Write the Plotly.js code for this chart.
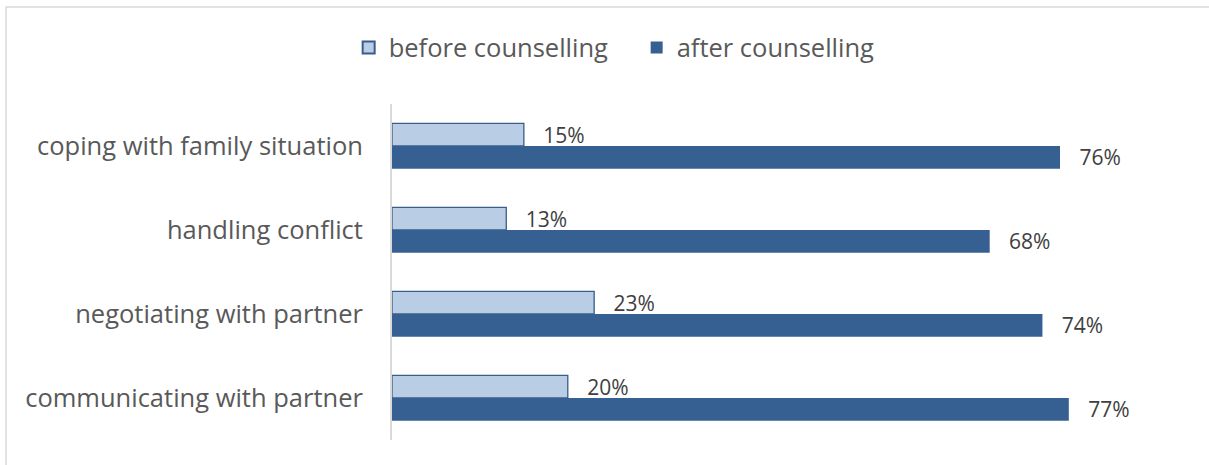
<!DOCTYPE html>
<html>
<head>
<meta charset="utf-8">
<script src="https://cdn.plot.ly/plotly-3.0.1.min.js"></script>
<style>html,body{margin:0;padding:0;background:#fff;}</style>
</head>
<body>
<div id="chart" style="width:1209px;height:465px;"></div>
<script>
const categories = ["coping with family situation", "handling conflict", "negotiating with partner", "communicating with partner"];
const seriesNames = ["before counselling", "after counselling"];
const beforeValues = [15, 13, 23, 20];
const afterValues = [76, 68, 74, 77];

const labelFont = {family: "Open Sans, Liberation Sans, sans-serif", size: 21, color: "#404040"};

const traces = [
  {
    type: "bar", orientation: "h", name: seriesNames[0],
    y: categories, x: beforeValues,
    marker: {color: "#b9cde5", line: {color: "#385d8a", width: 1.3}},
    texttemplate: "   %{x}%", textposition: "outside", textfont: labelFont,
    constraintext: "none", cliponaxis: false, hoverinfo: "x+y"
  },
  {
    type: "bar", orientation: "h", name: seriesNames[1],
    y: categories, x: afterValues,
    marker: {color: "#376092", line: {color: "#376092", width: 0}},
    texttemplate: "   %{x}%", textposition: "outside", textfont: labelFont,
    constraintext: "none", cliponaxis: false, hoverinfo: "x+y"
  }
];

const layout = {
  width: 1209, height: 465,
  margin: {l: 392, r: 29, t: 104, b: 25},
  paper_bgcolor: "#ffffff", plot_bgcolor: "#ffffff",
  font: {family: "Open Sans, Liberation Sans, sans-serif", color: "#595959"},
  barmode: "group", bargap: 0.46, bargroupgap: 0,
  showlegend: true,
  legend: {
    orientation: "h", x: -0.055, xanchor: "left", y: 1.167, yanchor: "middle",
    font: {size: 25.5, color: "#595959"}, traceorder: "normal",
    itemwidth: 30, itemsizing: "constant", tracegroupgap: 0, entrywidth: 243
  },
  xaxis: {
    range: [0, 89.65], showgrid: false, zeroline: false, showline: false,
    showticklabels: false, ticks: "", fixedrange: true
  },
  yaxis: {
    type: "category", autorange: "reversed",
    showgrid: false, zeroline: false, showline: true, linecolor: "#d9d9d9", linewidth: 2,
    ticks: "", ticklabelstandoff: 22,
    tickfont: {size: 25.5, color: "#595959"}, fixedrange: true
  },
  shapes: [
    {type: "rect", xref: "paper", yref: "paper",
     x0: -0.4898, x1: 1.05, y0: 1.2887, y1: -0.1,
     line: {color: "#d9d9d9", width: 1.5}, fillcolor: "rgba(0,0,0,0)", layer: "below"}
  ]
};

Plotly.newPlot("chart", traces, layout, {displayModeBar: false, staticPlot: true});
</script>
</body>
</html>
